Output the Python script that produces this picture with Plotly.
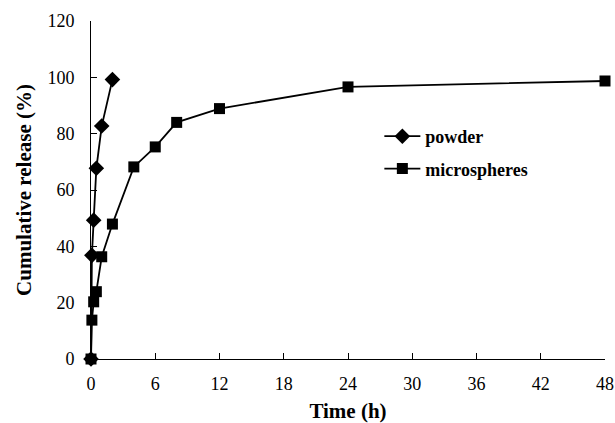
import plotly.graph_objects as go

# Data
powder_time = [0, 0.083, 0.25, 0.5, 1, 2]
powder_release = [0, 36.8, 49.3, 67.7, 82.7, 99.2]

micro_time = [0, 0.083, 0.25, 0.5, 1, 2, 4, 6, 8, 12, 24, 48]
micro_release = [0, 13.8, 20.3, 23.9, 36.3, 47.9, 68.2, 75.3, 84.0, 88.9, 96.6, 98.7]

x_ticks = [0, 6, 12, 18, 24, 30, 36, 42, 48]
y_ticks = [0, 20, 40, 60, 80, 100, 120]

FONT = "Liberation Serif, Times New Roman, serif"

fig = go.Figure()
fig.add_trace(go.Scatter(
    x=powder_time, y=powder_release, name="<b>powder</b>",
    mode="lines+markers", legendgroup="a",
    line=dict(color="black", width=1.8),
    marker=dict(symbol="diamond", size=12, color="black"),
    cliponaxis=False,
))
fig.add_trace(go.Scatter(
    x=micro_time, y=micro_release, name="<b>microspheres</b>",
    mode="lines+markers", legendgroup="b",
    line=dict(color="black", width=1.8),
    marker=dict(symbol="square", size=11, color="black"),
    cliponaxis=False,
))

fig.update_layout(
    width=615, height=423,
    margin=dict(l=91, r=10, t=21, b=64, autoexpand=False),
    paper_bgcolor="white", plot_bgcolor="white",
    font=dict(family=FONT, size=18, color="black"),
    showlegend=True,
    legend=dict(
        x=0.561, y=0.713, xanchor="left", yanchor="top",
        font=dict(family=FONT, size=18, color="black"),
        bgcolor="rgba(0,0,0,0)", traceorder="grouped", tracegroupgap=6,
        itemwidth=36,
    ),
    xaxis=dict(
        range=[0, 48], tickvals=x_ticks, ticktext=[str(v) for v in x_ticks],
        showgrid=False, zeroline=False, showline=True, linecolor="black", linewidth=1,
        ticks="inside", ticklen=6, tickcolor="black", tickwidth=1,
        ticklabelstandoff=8, automargin=False,
        title=dict(text="<b>Time (h)</b>", font=dict(family=FONT, size=21), standoff=12),
        tickfont=dict(family=FONT, size=18),
    ),
    yaxis=dict(
        range=[0, 120], tickvals=y_ticks, ticktext=[str(v) for v in y_ticks],
        showgrid=False, zeroline=False, showline=True, linecolor="black", linewidth=1,
        ticks="inside", ticklen=6, tickcolor="black", tickwidth=1,
        ticklabelstandoff=12, automargin=False,
        title=dict(text="<b>Cumulative release (%)</b>", font=dict(family=FONT, size=21), standoff=10),
        tickfont=dict(family=FONT, size=18),
    ),
)

fig.write_html(
    "out.html",
    config={"displayModeBar": False},
    post_script="document.body.style.margin='0';document.body.style.padding='0';",
)
